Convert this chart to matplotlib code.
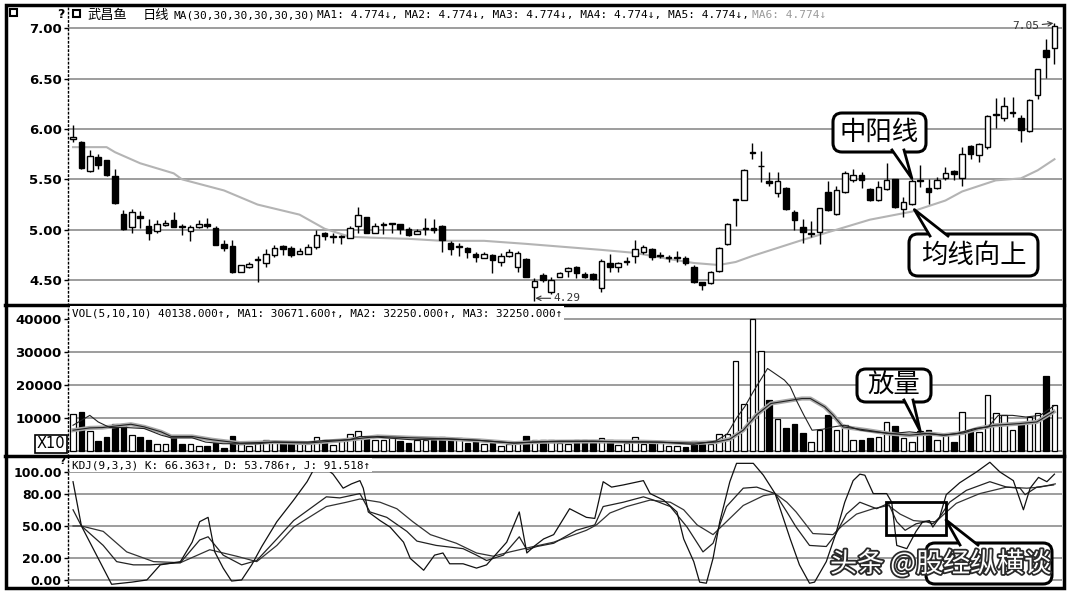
import matplotlib
matplotlib.use("Agg")
import matplotlib.pyplot as plt
import matplotlib.patheffects as pe
from matplotlib.patches import Rectangle, FancyBboxPatch, Polygon
import numpy as np

W, H = 1072, 593
CJK = ["Noto Sans CJK SC", "DejaVu Sans"]
MONO = ["DejaVu Sans Mono", "DejaVu Sans", "Noto Sans CJK SC"]

# ---- daily candles ----
opens = [5.90, 5.87, 5.58, 5.72, 5.69, 5.53, 5.16, 5.03, 5.14, 5.04,
         4.99, 5.05, 5.10, 5.04, 4.99, 5.03, 5.06, 5.02, 4.86, 4.84,
         4.58, 4.63, 4.70, 4.67, 4.75, 4.84, 4.82, 4.76, 4.76, 4.83,
         4.97, 4.93, 4.93, 4.92, 5.04, 5.13, 4.97, 5.05, 5.06, 5.06,
         5.01, 4.96, 5.01, 5.02, 5.04, 4.87, 4.83, 4.82, 4.76, 4.72,
         4.75, 4.68, 4.74, 4.63, 4.71, 4.43, 4.55, 4.38, 4.53, 4.59,
         4.63, 4.56, 4.56, 4.42, 4.67, 4.63, 4.68, 4.74, 4.78, 4.81,
         4.74, 4.72, 4.72, 4.72, 4.63, 4.48, 4.47, 4.59, 4.86, 5.30,
         5.30, 5.76, 5.63, 5.48, 5.36, 5.41, 5.18, 5.03, 4.96, 4.98,
         5.37, 5.16, 5.37, 5.49, 5.54, 5.40, 5.30, 5.40, 5.50, 5.21,
         5.26, 5.48, 5.41, 5.41, 5.51, 5.58, 5.51, 5.83, 5.74, 5.82,
         6.14, 6.11, 6.16, 6.11, 5.98, 6.34, 6.78, 6.80]
highs = [6.04, 5.88, 5.79, 5.75, 5.69, 5.60, 5.20, 5.21, 5.19, 5.11,
         5.10, 5.10, 5.18, 5.06, 5.05, 5.10, 5.12, 5.04, 4.90, 4.90,
         4.65, 4.68, 4.74, 4.81, 4.85, 4.85, 4.84, 4.82, 4.86, 5.00,
         4.98, 4.97, 4.95, 5.04, 5.23, 5.13, 5.07, 5.08, 5.06, 5.06,
         5.03, 5.01, 5.12, 5.11, 5.05, 4.89, 4.87, 4.83, 4.78, 4.78,
         4.76, 4.77, 4.81, 4.79, 4.72, 4.52, 4.57, 4.53, 4.58, 4.63,
         4.64, 4.58, 4.57, 4.71, 4.76, 4.68, 4.73, 4.90, 4.85, 4.82,
         4.78, 4.75, 4.79, 4.74, 4.65, 4.48, 4.59, 4.83, 5.07, 5.31,
         5.60, 5.86, 5.78, 5.57, 5.57, 5.42, 5.20, 5.11, 5.09, 5.22,
         5.48, 5.43, 5.58, 5.60, 5.57, 5.41, 5.48, 5.66, 5.50, 5.33,
         5.50, 5.64, 5.50, 5.52, 5.62, 5.59, 5.82, 5.84, 5.86, 6.14,
         6.31, 6.32, 6.32, 6.14, 6.30, 6.60, 6.89, 7.05]
lows = [5.87, 5.60, 5.57, 5.60, 5.53, 5.26, 5.00, 4.97, 5.02, 4.90,
        4.97, 5.04, 5.03, 4.95, 4.89, 5.02, 5.02, 4.85, 4.79, 4.57,
        4.58, 4.62, 4.48, 4.63, 4.73, 4.75, 4.73, 4.76, 4.76, 4.81,
        4.90, 4.87, 4.86, 4.92, 4.97, 4.97, 4.97, 4.96, 4.97, 4.96,
        4.94, 4.96, 4.95, 4.97, 4.78, 4.75, 4.74, 4.72, 4.68, 4.72,
        4.57, 4.64, 4.73, 4.58, 4.53, 4.29, 4.48, 4.36, 4.53, 4.53,
        4.52, 4.52, 4.50, 4.38, 4.58, 4.58, 4.65, 4.67, 4.76, 4.70,
        4.72, 4.68, 4.68, 4.65, 4.47, 4.40, 4.46, 4.58, 4.85, 5.04,
        5.30, 5.70, 5.47, 5.43, 5.33, 5.20, 5.00, 4.87, 4.93, 4.86,
        5.19, 5.15, 5.36, 5.47, 5.41, 5.29, 5.29, 5.39, 5.22, 5.13,
        5.25, 5.42, 5.26, 5.40, 5.49, 5.49, 5.43, 5.70, 5.67, 5.80,
        6.01, 6.08, 6.12, 5.87, 5.97, 6.30, 6.51, 6.65]
closes = [5.92, 5.61, 5.73, 5.64, 5.54, 5.27, 5.01, 5.18, 5.12, 4.97,
          5.06, 5.07, 5.03, 5.03, 5.03, 5.06, 5.04, 4.85, 4.82, 4.58,
          4.65, 4.66, 4.71, 4.76, 4.82, 4.81, 4.75, 4.79, 4.83, 4.95,
          4.94, 4.93, 4.94, 5.02, 5.15, 4.97, 5.04, 5.06, 5.06, 5.01,
          4.95, 4.99, 5.02, 5.00, 4.90, 4.81, 4.83, 4.78, 4.73, 4.76,
          4.70, 4.74, 4.78, 4.77, 4.53, 4.49, 4.50, 4.50, 4.57, 4.62,
          4.57, 4.53, 4.51, 4.69, 4.63, 4.67, 4.69, 4.81, 4.83, 4.73,
          4.74, 4.72, 4.72, 4.67, 4.48, 4.45, 4.58, 4.82, 5.06, 5.31,
          5.59, 5.76, 5.63, 5.46, 5.48, 5.21, 5.10, 4.98, 4.96, 5.22,
          5.20, 5.39, 5.56, 5.54, 5.49, 5.30, 5.42, 5.49, 5.23, 5.28,
          5.48, 5.49, 5.37, 5.49, 5.56, 5.55, 5.75, 5.75, 5.85, 6.13,
          6.15, 6.23, 6.17, 5.99, 6.29, 6.60, 6.71, 7.02]
volumes = [11300, 11800, 6100, 3000, 4200, 8100, 8100, 4700, 4200, 3200,
           2000, 2000, 4400, 2000, 2200, 1400, 1500, 2400, 1000, 4500,
           2000, 1500, 2700, 3200, 3000, 2400, 2400, 2400, 2400, 4200,
           3200, 1700, 3200, 5200, 6100, 4200, 3200, 3400, 4400, 3000,
           2400, 3200, 3400, 3400, 4200, 3400, 4000, 2400, 3200, 2000,
           2400, 1400, 2000, 2400, 4400, 3200, 3200, 3200, 2400, 2200,
           3200, 3200, 2400, 4000, 3400, 1700, 2400, 4200, 2200, 2700,
           2700, 1500, 1500, 1200, 3000, 2000, 2000, 5200, 5000, 27300,
           14100, 40138, 30300, 15600, 9600, 7100, 8300, 5600, 2700, 6500,
           11000, 6500, 7800, 3400, 3400, 4000, 4300, 8800, 7600, 4000,
           2700, 6000, 6300, 3400, 5000, 2700, 11900, 5800, 5800, 17000,
           11400, 10900, 6300, 8300, 10400, 11600, 22800, 13900]

# 30-day average line (readings at candle positions)
ma30_idx = [0, 4, 5, 8, 12, 13, 18, 22, 27, 30, 33, 36, 40, 44, 49, 54, 63, 67,
            71, 74, 77, 79, 81, 84, 87, 91, 95, 100, 104, 106, 110, 113, 115, 117]
ma30_val = [5.82, 5.82, 5.77, 5.66, 5.56, 5.50, 5.39, 5.25, 5.15, 5.01, 4.93, 4.92,
            4.91, 4.89, 4.89, 4.86, 4.80, 4.77, 4.71, 4.67, 4.65, 4.68, 4.74, 4.82,
            4.90, 5.00, 5.10, 5.18, 5.29, 5.38, 5.49, 5.51, 5.59, 5.70]

# volume averages
vma5_idx = [0, 2, 3, 4.4, 6.4, 8.5, 10.5, 11.7, 14.2, 15.8, 17.9, 22, 24, 28, 30, 33,
            34.2, 36.3, 40.4, 44.5, 48.5, 52.6, 54.7, 58, 62, 66, 70, 74, 76.6, 78,
            79.1, 80.1, 81.1, 82.8, 84.8, 85.5, 86.3, 87.1, 88.1, 89.4, 90.6, 92,
            93.9, 95.5, 97.6, 99.7, 101.7, 103.8, 105.4, 107.5, 109.1, 110.3, 112,
            113.6, 115.3, 116.9]
vma5_val = [7800, 10800, 8800, 7100, 7100, 6800, 4800, 4000, 4000, 2700, 2200, 2200,
            2700, 2700, 3200, 3400, 4400, 4200, 3400, 3700, 3200, 2400, 2700, 3000,
            3000, 2700, 2700, 2000, 3000, 5200, 10000, 13500, 18000, 25000, 21500,
            19500, 15000, 11000, 6300, 6600, 7300, 7800, 6300, 5800, 5300, 5800,
            5300, 4800, 5300, 6800, 7300, 10800, 10800, 10300, 10800, 13600]
vma10_idx = [0, 2, 3.5, 6.9, 8.5, 10.5, 11.7, 14.2, 16.6, 19.9, 24, 28, 32, 36.3,
             40.4, 44.5, 48.5, 52.6, 56, 62, 68, 74, 76.6, 78.3, 79.9, 81.5, 83.2,
             86.9, 87.9, 89.6, 90.6, 91.8, 94.7, 97.2, 99.7, 102.1, 103.8, 106.2,
             107.9, 109.9, 112.8, 114.9, 116.9]
vma10_val = [6300, 7000, 7100, 8100, 7300, 5800, 4400, 4400, 3400, 2400, 2700, 2400,
             3200, 4400, 4000, 3700, 3200, 2400, 2800, 2900, 2800, 2400, 2700, 3600,
             6300, 11000, 14400, 15900, 15900, 13400, 10900, 7300, 6300, 5300, 4800,
             5300, 4800, 5500, 6800, 7800, 8300, 8800, 11900]

# KDJ(9,3,3)
k_idx = [0, 1, 3.6, 5.2, 7.2, 9.2, 12.8, 15.1, 16.1, 17.9, 20.1, 21.9, 24.3, 26.3,
         30.2, 31.8, 34.2, 35.4, 37.4, 39.8, 41, 43.3, 46.5, 48.1, 49.3, 51.3, 53.2,
         54.1, 55.3, 57.3, 60, 62.2, 63.2, 65.6, 68, 69.2, 71.2, 73.2, 75.1, 76.3,
         77.9, 79.9, 81.5, 83.7, 85.1, 86.2, 87.8, 89.8, 90.9, 92.2, 93.8, 95.8,
         97.2, 98.2, 99.2, 100.5, 101.7, 102.5, 103.3, 104.5, 106.5, 109.3, 111.3,
         112.9, 113.5, 114.9, 116.9]
k_val = [65, 50, 32, 17, 14, 14, 16, 37, 40, 23, 14, 18, 38, 55, 77, 76, 80, 63, 58,
         45, 36, 32, 29, 23, 18, 23, 40, 28, 31, 34, 46, 51, 68, 72, 77, 74, 68, 49,
         26, 34, 68, 85, 86, 80, 63, 49, 32, 31, 42, 61, 72, 66, 71, 54, 46, 52, 54,
         52, 58, 72, 83, 91, 86, 85, 79, 86, 88]
d_idx = [0, 1, 3.6, 6.4, 9.6, 12.8, 16.3, 19.5, 21.9, 24.3, 26.3, 30.2, 32.6, 34.2,
         36.6, 38.6, 40.5, 42.6, 45.7, 48.1, 50.1, 52.1, 54.9, 57.3, 61.2, 62.4, 64,
         66, 68.8, 71.2, 72.8, 74.4, 76.3, 77.9, 79.9, 82.3, 83.7, 85.1, 86.2, 88.2,
         90.6, 91.8, 93.4, 95.4, 97.2, 98.6, 100.2, 101.7, 102.9, 103.7, 105.3,
         108.1, 111.3, 113.7, 115.3, 117.1]
d_val = [50, 50, 45, 26, 17, 16, 28, 22, 17, 32, 49, 68, 72, 75, 72, 66, 54, 42, 34,
         25, 22, 26, 31, 35, 46, 51, 62, 68, 74, 72, 65, 51, 42, 54, 69, 78, 80, 72,
         63, 43, 42, 51, 61, 66, 69, 61, 55, 54, 54, 60, 71, 80, 86, 85, 86, 89]
j_idx = [0, 1, 4.6, 7, 8.8, 10.4, 12.8, 14.2, 15.1, 16.1, 16.9, 17.9, 18.9, 20.1,
         21.3, 22.5, 24.3, 26.3, 27.9, 28.6, 30.2, 31, 32.2, 33.2, 34.2, 34.6, 35.2,
         36.6, 37.8, 39.4, 40.2, 41.8, 43.1, 44.1, 44.9, 46.5, 48.1, 49.3, 51.7,
         53.2, 54.1, 55.1, 56.1, 57.3, 59.2, 61.2, 62.2, 63.2, 64.2, 65.6, 68, 68.8,
         70.4, 72, 72.8, 74, 74.7, 75.5, 76.3, 77.1, 78.3, 79.1, 81.1, 82.3, 83.7,
         85.5, 86.6, 87.8, 88.4, 89.8, 90.9, 92, 93, 93.8, 94.4, 95.4, 97, 97.6,
         98.2, 99.4, 100.5, 101.3, 102.1, 102.5, 103.3, 104.1, 105.7, 107.7, 109.3,
         110.5, 112.1, 113.3, 114.1, 115.1, 116.1, 117]
j_val = [91, 50, -4, -2, 0, 14, 17, 35, 54, 58, 26, 11, -1, 0, 14, 31, 54, 74, 91,
         101, 103, 98, 85, 89, 92, 85, 63, 55, 49, 35, 20, 9, 23, 25, 15, 15, 11, 14,
         35, 63, 25, 32, 38, 42, 66, 58, 57, 91, 86, 88, 92, 80, 74, 63, 38, 17, -2,
         -3, 20, 54, 91, 108, 108, 97, 80, 38, 14, -3, -2, 17, 42, 72, 92, 98, 97, 80,
         80, 72, 32, 29, 45, 54, 55, 49, 58, 79, 90, 100, 109, 100, 92, 65, 85, 95,
         91, 98]

price_ticks = [4.50, 5.00, 5.50, 6.00, 6.50, 7.00]
price_labels = ["4.50", "5.00", "5.50", "6.00", "6.50", "7.00"]
vol_ticks = [10000, 20000, 30000, 40000]
vol_labels = ["10000", "20000", "30000", "40000"]
kdj_ticks = [0, 20, 50, 80, 100]
kdj_labels = ["0.00", "20.00", "50.00", "80.00", "100.00"]

fig = plt.figure(figsize=(W / 100, H / 100), dpi=100)
fig.patch.set_facecolor("white")


def panel(top, bottom, left=68, right=1062):
    return fig.add_axes([left / W, 1 - bottom / H, (right - left) / W, (bottom - top) / H])


ax_p = panel(6, 305)
ax_v = panel(305, 456)
ax_k = panel(456, 587)

n = len(closes)
xs = np.arange(n)
grid_c = "#8c8c8c"

for ax, ticks, labels, fs in ((ax_p, price_ticks, price_labels, 9.5),
                              (ax_v, vol_ticks, vol_labels, 9.5),
                              (ax_k, kdj_ticks, kdj_labels, 9)):
    ax.set_xlim(-0.6, 117.9)
    ax.set_xticks([])
    for s in ("top", "right", "bottom"):
        ax.spines[s].set_visible(False)
    ax.spines["left"].set_linestyle((0, (1, 2)))
    ax.spines["left"].set_linewidth(1)
    ax.set_yticks(ticks)
    ax.set_yticklabels(labels, fontsize=fs, fontweight="bold", fontfamily="DejaVu Sans")
    ax.tick_params(axis="y", length=3, width=1, pad=1.5, colors="black")
    ax.set_facecolor("none")
    ax.set_axisbelow(True)
    ax.yaxis.grid(True, color=grid_c, lw=1.2)

ax_p.set_ylim(4.253, 7.221)
ax_v.set_ylim(-1515, 44238)
ax_k.set_ylim(-6.5, 114.8)
ax_v.axhline(0, color=grid_c, lw=1.2, zorder=0)

# candles
for i in range(n):
    o, h, l, c = opens[i], highs[i], lows[i], closes[i]
    up = c >= o
    ax_p.vlines(i, l, h, color="black", lw=1, zorder=2)
    ax_p.add_patch(Rectangle((i - 0.33, min(o, c)), 0.66, max(abs(c - o), 0.007),
                             facecolor="white" if up else "black",
                             edgecolor="black", lw=1, zorder=3))
ax_p.plot(ma30_idx, ma30_val, color="#b4b4b4", lw=1.5, zorder=1)

# volume
fills = ["white" if closes[i] >= opens[i] else "black" for i in range(n)]
ax_v.bar(xs, volumes, width=0.66, color=fills, edgecolor="black", lw=0.9, zorder=2)
ax_v.plot(vma10_idx, vma10_val, color="#a8a8a8", lw=3, zorder=3)
ax_v.plot(vma10_idx, vma10_val, color="#222222", lw=0.8, zorder=4)
ax_v.plot(vma5_idx, vma5_val, color="#222222", lw=0.8, zorder=4)

# KDJ
ax_k.plot(d_idx, d_val, color="#333333", lw=0.9)
ax_k.plot(k_idx, k_val, color="#222222", lw=0.9)
ax_k.plot(j_idx, j_val, color="#111111", lw=0.9)

# overlay in pixel coordinates
ov = fig.add_axes([0, 0, 1, 1])
ov.set_xlim(0, W)
ov.set_ylim(H, 0)
ov.axis("off")
ov.set_zorder(10)
ov.patch.set_alpha(0)


def to_ov(ax, x, y):
    dx, dy = ax.transData.transform((x, y))
    return dx, H - dy


ov.add_patch(Rectangle((5.5, 4.5), 1058, 583, fill=False, lw=2.5, ec="black"))
for yy in (305, 456):
    ov.plot([5, 1064], [yy, yy], color="black", lw=2.5)

# headers
ov.add_patch(Rectangle((10, 9), 7, 7, fill=False, lw=1.5, ec="black"))
ov.add_patch(Rectangle((73, 10), 7, 7, fill=False, lw=1.5, ec="black"))
ov.text(61, 14, "?", fontsize=9, fontweight="bold", ha="center", va="center")
ov.text(87, 15, "武昌鱼", fontsize=9.5, family=CJK, va="center")
ov.text(143, 15, "日线", fontsize=9.5, family=CJK, va="center")
ov.text(173, 15, "MA(30,30,30,30,30,30)", fontsize=8, family=MONO, va="center")
ov.text(317, 15, "MA1: 4.774↓, MA2: 4.774↓, MA3: 4.774↓, MA4: 4.774↓, MA5: 4.774↓,",
        fontsize=8, family=MONO, va="center")
ov.text(752, 15, "MA6: 4.774↓", fontsize=8, family=MONO, va="center", color="#9a9a9a")
ov.text(72, 313, "VOL(5,10,10) 40138.000↑, MA1: 30671.600↑, MA2: 32250.000↑, MA3: 32250.000↑",
        fontsize=7.9, family=MONO, va="center",
        bbox=dict(facecolor="white", edgecolor="none", pad=1.2))
ov.text(72, 465, "KDJ(9,3,3) K: 66.363↑, D: 53.786↑, J: 91.518↑",
        fontsize=7.9, family=MONO, va="center",
        bbox=dict(facecolor="white", edgecolor="none", pad=1.2))
ov.text(62, 461, "?", fontsize=7.5, fontweight="bold", ha="center", va="center")
ov.text(51, 444, "X10", fontsize=10.5, ha="center", va="center",
        bbox=dict(boxstyle="square,pad=0.12", fc="white", ec="black", lw=1.2))

# high / low markers
lx, ly = to_ov(ax_p, 55, lows[55])
ov.annotate("4.29", xy=(lx + 1, ly - 3), xytext=(lx + 19, ly - 3), fontsize=8,
            family=MONO, va="center", ha="left", color="#333333",
            arrowprops=dict(arrowstyle="->", lw=0.8, color="#333333",
                            shrinkA=0, shrinkB=0))
hx, hy = to_ov(ax_p, 117, highs[117])
ov.annotate("7.05", xy=(hx - 1, hy), xytext=(hx - 15, hy + 3), fontsize=8,
            family=MONO, va="center", ha="right", color="#333333",
            arrowprops=dict(arrowstyle="->", lw=0.8, color="#333333",
                            shrinkA=0, shrinkB=0))


def bubble(x0, y0, x1, y1, base, tip, text=None, fs=19):
    ov.add_patch(FancyBboxPatch((x0, y0), x1 - x0, y1 - y0,
                                boxstyle="round,pad=0,rounding_size=9",
                                fc="white", ec="black", lw=2.2, zorder=20))
    ov.add_patch(Polygon([base[0], tip, base[1]], closed=True, fc="white",
                         ec="none", zorder=21))
    ov.plot([base[0][0], tip[0], base[1][0]], [base[0][1], tip[1], base[1][1]],
            color="black", lw=2, zorder=22)
    if text:
        ov.text((x0 + x1) / 2, (y0 + y1) / 2, text, fontsize=fs, family=CJK,
                ha="center", va="center", zorder=23)


tip1 = to_ov(ax_p, 100, highs[100] + 0.01)
bubble(833, 113, 926, 152, [(892, 150), (904, 150)], tip1, "中阳线")
k100 = ma30_idx.index(100)
tip2 = to_ov(ax_p, 100.3, ma30_val[k100] + 0.02)
bubble(909, 234, 1038, 276, [(930, 236), (948, 236)], tip2, "均线向上")
tip3 = to_ov(ax_v, 101, volumes[101])
bubble(857, 369, 931, 402, [(904, 400), (913, 400)], tip3, "放量")

ov.add_patch(Rectangle((886, 502), 60, 33, fill=False, ec="black", lw=2, zorder=20))
bubble(926, 543, 1052, 584, [(960, 545), (978, 545)], (946, 520))

ov.text(830, 564, "头条 @股经纵横谈", fontsize=19.5, family=CJK, color="white",
        va="center", ha="left", zorder=30,
        path_effects=[pe.withStroke(linewidth=2.6, foreground="#2a2a2a")])

fig.savefig("out.png", dpi=100, facecolor="white")
